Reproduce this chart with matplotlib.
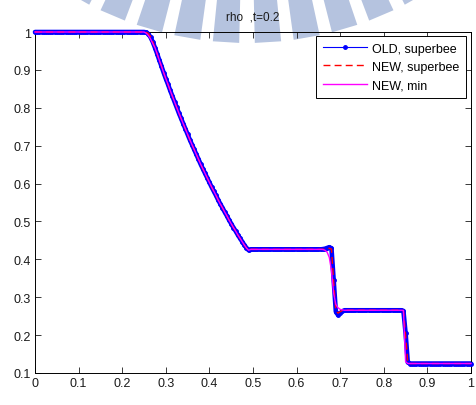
import matplotlib
matplotlib.use("Agg")
import matplotlib.pyplot as plt
import numpy as np
from matplotlib.patches import Polygon

plt.rcParams["font.family"] = ["Liberation Sans", "DejaVu Sans"]

W, H = 477, 406

# grid, dx = 0.005
x = np.linspace(0.0, 1.0, 201)

# rarefaction fan, x = 0.275 ... 0.485
rho_fan = [
    0.959, 0.943, 0.926, 0.910, 0.893, 0.877, 0.862, 0.846, 0.831, 0.816,
    0.801, 0.786, 0.772, 0.758, 0.744, 0.730, 0.716, 0.703, 0.690, 0.677,
    0.664, 0.651, 0.639, 0.627, 0.615, 0.603, 0.591, 0.580, 0.569, 0.557,
    0.546, 0.536, 0.525, 0.515, 0.504, 0.494, 0.484, 0.475, 0.465, 0.456,
    0.447, 0.438, 0.430,
]

# head of the fan, x = 0.255 ... 0.27
old_head = [0.999, 0.995, 0.986, 0.974]
new_head = [0.999, 0.996, 0.988, 0.975]
min_head = [0.997, 0.991, 0.982, 0.970]

# contact, x = 0.66 ... 0.705
old_contact = [0.427, 0.428, 0.430, 0.432, 0.429, 0.345, 0.262, 0.253, 0.258, 0.263]
new_contact = [0.4263, 0.427, 0.428, 0.429, 0.427, 0.340, 0.265, 0.258, 0.262, 0.265]
min_contact = [0.426, 0.424, 0.419, 0.405, 0.370, 0.310, 0.281, 0.272, 0.268, 0.2665]

# shock, x = 0.845 ... 0.855
old_shock = [0.264, 0.205, 0.128]
new_shock = [0.265, 0.200, 0.127]
min_shock = [0.265, 0.130, 0.125]

rho_l, rho_tail, rho_2, rho_3, rho_r = 1.0, 0.424, 0.4263, 0.2656, 0.125


def build(head, contact, shock):
    return np.array([rho_l] * 51 + head + rho_fan + [rho_tail] + [rho_2] * 33
                    + contact + [rho_3] * 27 + shock + [rho_r] * 29)


rho_old = build(old_head, old_contact, old_shock)
rho_new = build(new_head, new_contact, new_shock)
rho_min = build(min_head, min_contact, min_shock)

fig = plt.figure(figsize=(W / 100, H / 100), dpi=100)
fig.patch.set_facecolor("white")

# faint seal in the background
WM = "#b5c3df"
cx, cy, r_in, r_out = 247, -300, 200, 344
for a in [-29.5, -23, -16.5, -10, -3.5, 3.5, 10, 16.5, 23, 29.5]:
    t0, t1 = np.radians(a - 2.2), np.radians(a + 2.2)
    pts = [(cx + r * np.sin(t), cy + r * np.cos(t)) for r, t in
           [(r_in, t0), (r_out, t0), (r_out, t1), (r_in, t1)]]
    fig.patches.append(Polygon([(px / W, 1 - py / H) for px, py in pts], closed=True,
                               transform=fig.transFigure, facecolor=WM, edgecolor="none", zorder=-1))

ax = fig.add_axes([35 / W, 32 / H, 436 / W, 341 / H])
ax.set_facecolor("none")
ax.set_zorder(1)

# dense markers merge into a solid band
ax.plot(x, rho_old, color="blue", lw=3.3, solid_capstyle="round", clip_on=False, zorder=2)
ax.plot(x, rho_old, color="blue", lw=0.8, marker=".", markersize=5, clip_on=False,
        label="OLD, superbee", zorder=3)
ax.plot(x, rho_new, color="red", lw=1.0, ls=(0, (5, 3)), clip_on=False,
        label="NEW, superbee", zorder=4)
ax.plot(x, rho_min, color="magenta", lw=1.0, clip_on=False,
        label="NEW, min", zorder=5)

ax.set_xlim(0, 1)
ax.set_ylim(0.1, 1)
ax.set_xticks(np.arange(0, 1.01, 0.1))
ax.set_yticks(np.arange(0.1, 1.01, 0.1))
ax.set_xticklabels(["0", "0.1", "0.2", "0.3", "0.4", "0.5", "0.6", "0.7", "0.8", "0.9", "1"])
ax.set_yticklabels(["0.1", "0.2", "0.3", "0.4", "0.5", "0.6", "0.7", "0.8", "0.9", "1"])
ax.tick_params(direction="in", length=4, width=0.6, top=True, right=True,
               labelsize=9, colors="#1a1a1a", pad=3)
for s in ax.spines.values():
    s.set_linewidth(0.7)
    s.set_color("black")

ax.set_title("rho  ,t=0.2", fontsize=8.5, color="#1a1a1a", pad=9)

leg = ax.legend(loc="upper right", bbox_to_anchor=(0.9885, 0.9892), borderaxespad=0,
                fontsize=9, fancybox=False, framealpha=1, edgecolor="black",
                handlelength=3.5, handletextpad=0.4, labelspacing=0.5, borderpad=0.55)
leg.get_frame().set_linewidth(0.7)

fig.savefig("out.png", dpi=100, facecolor="white")
